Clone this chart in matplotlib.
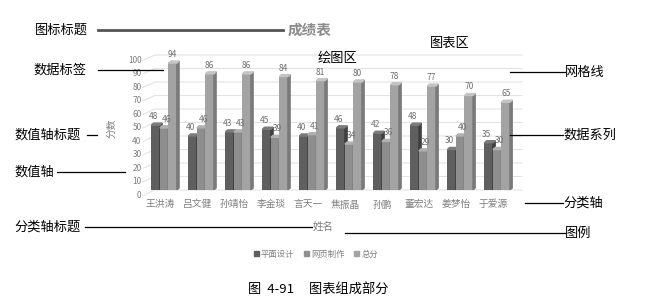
import matplotlib
matplotlib.use("Agg")
import matplotlib.pyplot as plt
from matplotlib.patches import Polygon, Patch
from matplotlib.lines import Line2D

plt.rcParams['font.family'] = ['Noto Sans CJK SC', 'DejaVu Sans']

# data
names = ["王洪涛", "吕文健", "孙靖怡", "李金琰", "言天一",
         "焦振晶", "孙鹏", "董宏达", "姜梦怡", "于爱源"]
design = [48, 40, 43, 45, 40, 46, 42, 48, 30, 35]
web = [46, 46, 43, 39, 41, 34, 36, 29, 40, 30]
total = [94, 86, 86, 84, 81, 80, 78, 77, 70, 65]
series_names = ["平面设计", "网页制作", "总分"]
y_ticks = [0, 10, 20, 30, 40, 50, 60, 70, 80, 90, 100]

W, H = 651, 304
front = ["#5f5f5f", "#8e8e8e", "#a3a3a3"]
side = ["#3f3f3f", "#6c6c6c", "#7a7a7a"]
top = ["#7a7a7a", "#b0b0b0", "#c4c4c4"]
text_gray = "#7f7f7f"


def fx(px):
    return px / W


def fy(py):
    return 1 - py / H


fig = plt.figure(figsize=(W / 100, H / 100), dpi=100)
ax = fig.add_axes([fx(143), fy(190), fx(522) - fx(143), fy(55) - fy(190)])
ax.set_xlim(-0.46, 9.78)
ax.set_ylim(0, 100)
ax.axis("off")

# gridlines with a slanted side-wall piece
for v in y_ticks:
    ax.plot([-0.46, -0.14, 9.78], [v - 4, v, v], color="#e3e3e3",
            lw=0.8, zorder=0, clip_on=False)
    ax.text(-0.5, v - 4, str(v), ha="right", va="center", fontsize=6,
            color=text_gray, clip_on=False)

width = 0.23
offsets = [-0.12, 0.11, 0.34]
label_shift = [-0.06, 0.06, 0.0]
dx, dy = 0.06, 1.5
for s, vals in enumerate([design, web, total]):
    for i, v in enumerate(vals):
        xc = i + offsets[s]
        xl, xr = xc - width / 2, xc + width / 2
        ax.bar(xc, v, width=width, color=front[s], zorder=2 + s)
        ax.add_patch(Polygon([(xr, 0), (xr + dx, dy), (xr + dx, v + dy),
                              (xr, v)], closed=True, color=side[s],
                             zorder=2 + s))
        ax.add_patch(Polygon([(xl, v), (xl + dx, v + dy),
                              (xr + dx, v + dy), (xr, v)], closed=True,
                             color=top[s], zorder=2 + s))
        ax.text(xc + label_shift[s], v + 3, str(v), ha="center",
                va="bottom", fontsize=6, color="#6f6f6f", zorder=6)

for i, n in enumerate(names):
    ax.text(i, -7, n, ha="center", va="top", fontsize=7,
            color=text_gray, clip_on=False)

ax.text(-1.3, 46, "分数", rotation=90, ha="center", va="center",
        fontsize=7, color=text_gray, clip_on=False)

fig.text(fx(310), fy(30), "成绩表", ha="center", va="center", fontsize=10.5,
         color="#8c8c8c", fontweight="bold")
fig.text(fx(323), fy(227), "姓名", ha="center", va="center", fontsize=7.5,
         color=text_gray)

handles = [Patch(color=c) for c in front]
fig.legend(handles, series_names, loc="center", ncol=3,
           bbox_to_anchor=(fx(316), fy(254)), frameon=False, fontsize=6,
           labelcolor=text_gray, handlelength=0.6, handleheight=0.6,
           handletextpad=0.2, columnspacing=1.2)

fig.text(fx(318), fy(289), "图  4-91     图表组成部分", ha="center",
         va="center", fontsize=9.5, color="black")

# annotations: (text, text x, y, line x0, line x1)
notes = [
    ("图标标题", 35, 30, 98, 283),
    ("数据标签", 33, 70, 98, 163),
    ("数值轴标题", 14, 135, 87, 97),
    ("数值轴", 14, 172, 57, 125),
    ("分类轴标题", 14, 227, 85, 312),
    ("网格线", 565, 72, 510, 565),
    ("数据系列", 563, 135, 510, 563),
    ("分类轴", 563, 203, 525, 563),
    ("图例", 565, 233, 345, 565),
]
for label, tx, ty, x0, x1 in notes:
    fig.text(fx(tx), fy(ty), label, ha="left", va="center", fontsize=9.5,
             color="black")
    lw = 2 if label == "图标标题" else 0.9
    col = "#555555" if label == "图标标题" else "black"
    fig.add_artist(Line2D([fx(x0), fx(x1)], [fy(ty), fy(ty)], lw=lw,
                          color=col))

fig.text(fx(430), fy(43), "图表区", ha="left", va="center", fontsize=9.5,
         color="black")
fig.text(fx(318), fy(58), "绘图区", ha="left", va="center", fontsize=9.5,
         color="black")

fig.savefig("out.png", dpi=100, facecolor="white")
